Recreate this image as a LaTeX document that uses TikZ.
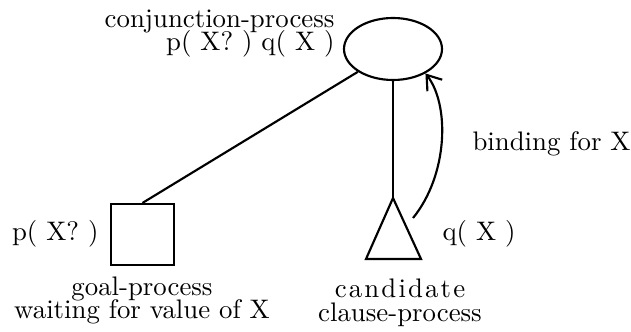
\documentclass[tikz,border=0pt]{standalone}
\usetikzlibrary{shapes.geometric,arrows.meta}
\begin{document}
\begin{tikzpicture}[x=0.373pt,y=-0.373pt,
  lbl/.style={font=\fontsize{10}{12}\selectfont, inner sep=0pt},
  shp/.style={draw, line width=0.8pt},
  conn/.style={line width=0.8pt}]
\useasboundingbox (0,0) rectangle (631,331);
\node[shp, ellipse, minimum width=98*0.373pt, minimum height=62*0.373pt, inner sep=0pt] (conj) at (393,49) {};
\node[shp, rectangle, minimum width=63*0.373pt, minimum height=61*0.373pt, inner sep=0pt] (goal) at (142.5,234.5) {};
\coordinate (apex) at (393,198);
\coordinate (bl) at (366,259);
\coordinate (br) at (421,259);
\draw[shp, line join=miter] (apex) -- (br) -- (bl) -- cycle;
\coordinate (arcstart) at (413,218);
% labels
\node[lbl, anchor=base east] (l1) at (335,28) {conjunction-process};
\node[lbl, anchor=base east] (l2) at (335,51) {p( X? ) q( X )};
\node[lbl, anchor=base east] (l3) at (99,240) {p( X? )};
\node[lbl, anchor=base west] (l4) at (442,240) {q( X )};
\node[lbl, anchor=base west] (l5) at (472,151) {binding for X};
\node[lbl, anchor=base] (l6) at (142,295) {goal-process};
\node[lbl, anchor=base] (l7) at (142,318) {waiting for value of X};
\node[lbl, anchor=base] (l8) at (400,297) {c\kern0.8pt a\kern0.8pt n\kern0.8pt d\kern0.8pt i\kern0.8pt d\kern0.8pt a\kern0.8pt t\kern0.8pt e};
\node[lbl, anchor=base] (l9) at (400,321) {clause-process};
% connectors
\draw[conn] (conj.213) -- (goal.north);
\draw[conn] (conj.south) -- (apex);
\draw[conn, -{Straight Barb[length=5pt,width=7pt]}] (arcstart) .. controls (448,175) and (450,105) .. (conj.-37);
\end{tikzpicture}
\end{document}
